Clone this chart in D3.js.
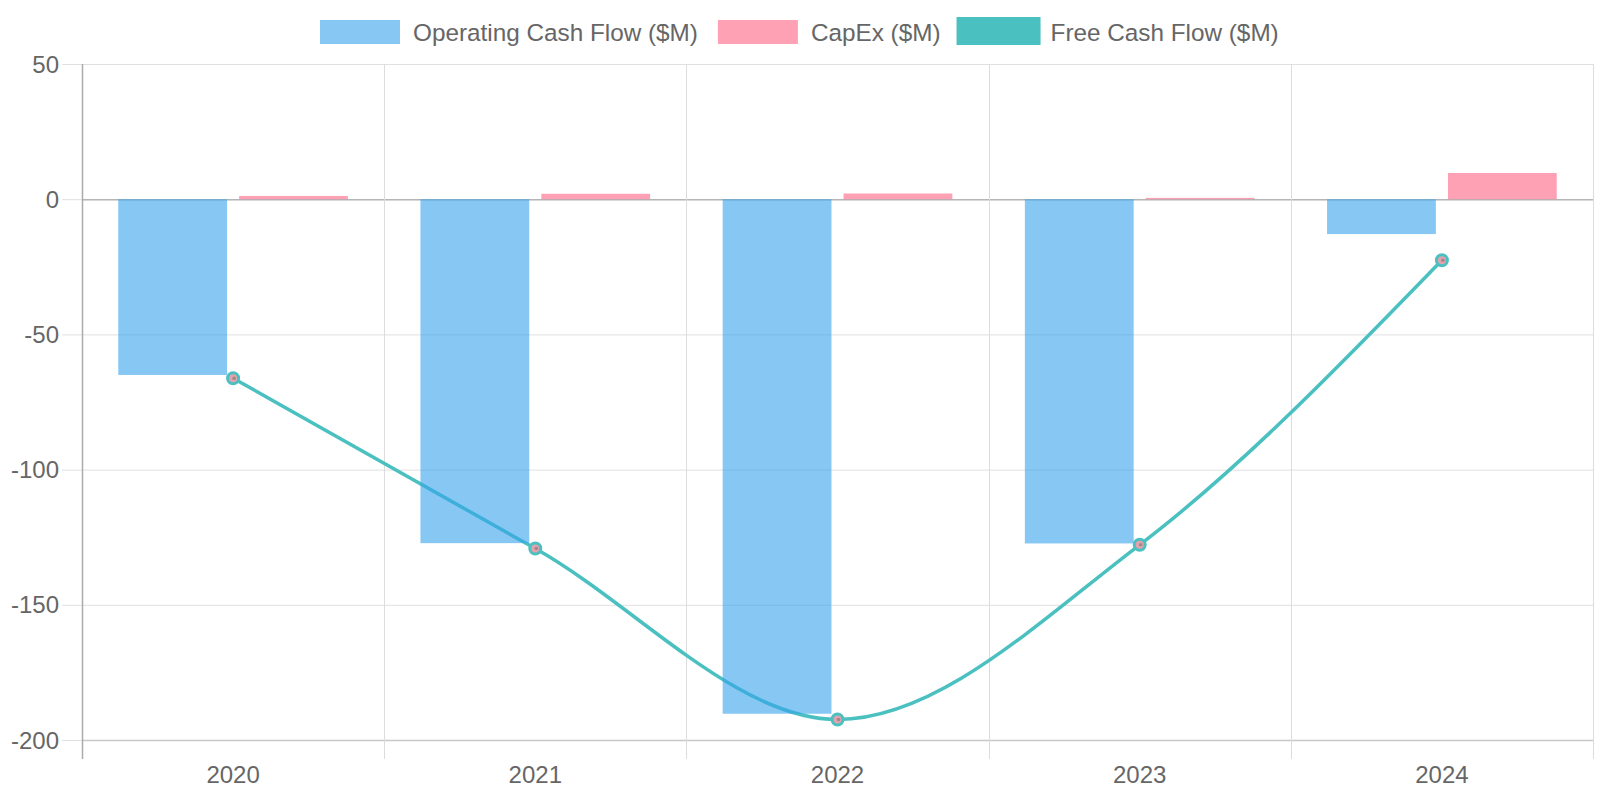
<!DOCTYPE html>
<html>
<head>
<meta charset="utf-8">
<script src="https://cdn.jsdelivr.net/npm/d3@7"></script>
<style>
  html, body { margin: 0; padding: 0; background: #fff; }
  svg { display: block; font-family: "Liberation Sans", Arial, Helvetica, sans-serif; }
</style>
</head>
<body>
<svg id="chart" width="1600" height="800"></svg>
<script>
// ---- data ----
const years = ["2020", "2021", "2022", "2023", "2024"];
const operatingCashFlow = [-65.0, -127.2, -190.3, -127.3, -12.9];
const capEx = [1.2, 2.0, 2.1, 0.5, 9.7];
const freeCashFlow = [-66.2, -129.2, -192.4, -127.8, -22.6];
const yTicks = [50, 0, -50, -100, -150, -200];
const seriesNames = ["Operating Cash Flow ($M)", "CapEx ($M)", "Free Cash Flow ($M)"];

(function () {
// ---- styles ----
const blueFill = "rgba(54,162,235,0.6)";
const pinkFill = "rgba(255,99,132,0.6)";
const teal = "rgb(75,192,192)";
const textColor = "#666";

const svg = d3.select("#chart");
const pLeft = 82, pRight = 1593, pTop = 64, pBottom = 740;

const x = d3.scaleBand().domain(years).range([pLeft, pRight]).padding(0);
const y = d3.scaleLinear().domain([-200, 50]).range([pBottom, pTop]);

const bw = x.bandwidth();
const x1 = d3.scaleBand().domain(["ocf", "capex"]).range([bw * 0.1, bw * 0.9]).padding(0);
const barW = x1.bandwidth() * 0.9;

// ---- grid ----
const grid = svg.append("g");
yTicks.forEach(t => {
  grid.append("line")
    .attr("x1", pLeft - 20).attr("x2", pRight)
    .attr("y1", y(t) + 0.5).attr("y2", y(t) + 0.5)
    .attr("stroke", "#e0e0e0").attr("stroke-width", 1);
  if (t === 0 || t === -200) {
    grid.append("line")
      .attr("x1", pLeft).attr("x2", pRight)
      .attr("y1", y(t) + 0.5).attr("y2", y(t) + 0.5)
      .attr("stroke", t === 0 ? "#b5b5b5" : "#c8c8c8").attr("stroke-width", 1.5);
  }
});
const bounds = years.map(d => x(d)).concat([pRight]);
bounds.forEach((bx, i) => {
  grid.append("line")
    .attr("x1", Math.round(bx) + 0.5).attr("x2", Math.round(bx) + 0.5)
    .attr("y1", pTop).attr("y2", pBottom + 19)
    .attr("stroke", i === 0 ? "#aaa" : "#dcdcdc").attr("stroke-width", i === 0 ? 1.5 : 1);
});

// ---- y labels ----
svg.append("g").selectAll("text").data(yTicks).join("text")
  .attr("x", 59).attr("y", d => y(d) + 8.5)
  .attr("text-anchor", "end")
  .attr("font-size", 24).attr("fill", textColor)
  .text(d => d);

// ---- x labels ----
svg.append("g").selectAll("text").data(years).join("text")
  .attr("x", d => x(d) + bw / 2).attr("y", 782.5)
  .attr("text-anchor", "middle")
  .attr("font-size", 24).attr("fill", textColor)
  .text(d => d);

// ---- line (beneath bars) ----
const line = d3.line()
  .x((d, i) => x(years[i]) + bw / 2)
  .y(d => y(d))
  .curve(d3.curveMonotoneX);
svg.append("path")
  .datum(freeCashFlow)
  .attr("d", line)
  .attr("fill", "none")
  .attr("stroke", teal)
  .attr("stroke-width", 3.5);

// ---- bars ----
const barG = svg.append("g");
barG.selectAll("rect.ocf").data(operatingCashFlow).join("rect")
  .attr("class", "ocf")
  .attr("x", (d, i) => x(years[i]) + x1("ocf") + (x1.bandwidth() - barW) / 2)
  .attr("width", barW)
  .attr("y", d => Math.min(y(d), y(0)))
  .attr("height", d => Math.abs(y(d) - y(0)))
  .attr("fill", blueFill);
barG.selectAll("rect.capex").data(capEx).join("rect")
  .attr("class", "capex")
  .attr("x", (d, i) => x(years[i]) + x1("capex") + (x1.bandwidth() - barW) / 2)
  .attr("width", barW)
  .attr("y", d => Math.min(y(d), y(0)))
  .attr("height", d => Math.abs(y(d) - y(0)))
  .attr("fill", pinkFill);

// ---- points ----
const pts = svg.append("g");
pts.selectAll("circle.p").data(freeCashFlow).join("circle")
  .attr("class", "p")
  .attr("cx", (d, i) => x(years[i]) + bw / 2)
  .attr("cy", d => y(d))
  .attr("r", 5.5)
  .attr("fill", "#e2a3ad")
  .attr("stroke", teal)
  .attr("stroke-width", 3);
pts.selectAll("circle.c").data(freeCashFlow).join("circle")
  .attr("class", "c")
  .attr("cx", (d, i) => x(years[i]) + bw / 2 + 1)
  .attr("cy", d => y(d))
  .attr("r", 1.8)
  .attr("fill", "#a08890");

// ---- legend ----
const legend = svg.append("g");
const legendFills = [blueFill, pinkFill, teal];
const legendGaps = [20, 16, 0];
let lx = 320;
seriesNames.forEach((name, i) => {
  const r = legend.append("rect")
    .attr("x", lx).attr("y", 20).attr("width", 80).attr("height", 24)
    .attr("fill", legendFills[i]);
  let textX = lx + 80 + 13;
  if (i === 2) {
    r.attr("x", lx + 1.5).attr("y", 18.5).attr("width", 81).attr("height", 25)
      .attr("stroke", teal).attr("stroke-width", 3);
    textX = lx + 84 + 10;
  }
  const t = legend.append("text")
    .attr("x", textX).attr("y", 40.5)
    .attr("font-size", 24.3).attr("fill", textColor)
    .text(name);
  lx = textX + t.node().getComputedTextLength() + legendGaps[i];
});
})();
</script>
</body>
</html>
